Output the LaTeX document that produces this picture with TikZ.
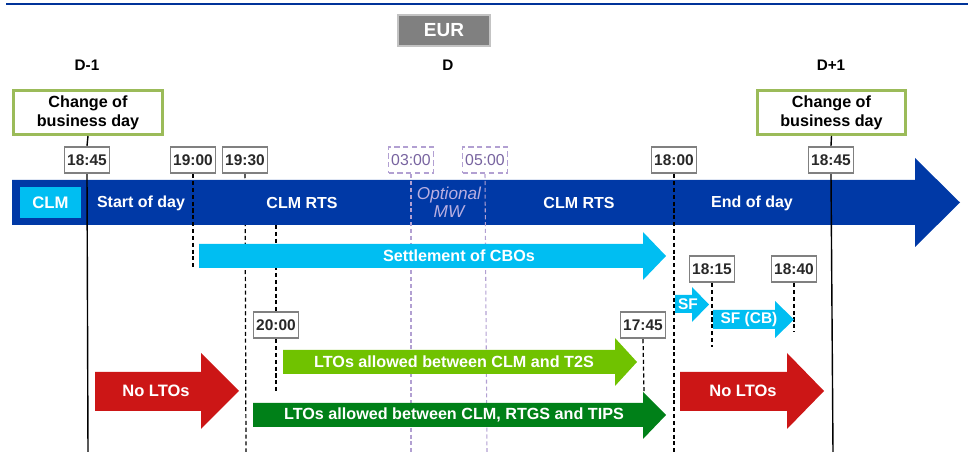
\documentclass[tikz,border=0pt]{standalone}
\usepackage{fontspec}
\setmainfont{Liberation Sans}
\definecolor{mainblue}{RGB}{0,57,166}
\definecolor{topblue}{RGB}{0,51,153}
\definecolor{cyanb}{RGB}{0,190,242}
\definecolor{lgreen}{RGB}{112,194,0}
\definecolor{dgreen}{RGB}{0,128,24}
\definecolor{redb}{RGB}{204,22,22}
\definecolor{cbdgreen}{RGB}{155,187,89}
\definecolor{tgray}{RGB}{128,128,128}
\definecolor{tdark}{RGB}{40,40,40}
\definecolor{mwpurple}{RGB}{178,160,210}
\definecolor{mwtext}{RGB}{120,100,160}
\definecolor{mwlight}{RGB}{185,175,225}
\definecolor{eurgray}{RGB}{128,128,128}
\definecolor{eurborder}{RGB}{195,195,195}
\begin{document}
\begin{tikzpicture}[x=0.02cm,y=-0.02cm,
  font=\bfseries\fontsize{9.2}{11}\selectfont,
  tbox/.style={draw=tgray, line width=1.1pt, fill=white, minimum width=0.9cm, minimum height=0.53cm, inner sep=0pt, text=tdark, font=\bfseries\fontsize{8.8}{10}\selectfont},
  pbox/.style={draw=mwpurple, dashed, dash pattern=on 3pt off 2pt, line width=1pt, fill=white, minimum width=0.9cm, minimum height=0.53cm, inner sep=0pt, text=mwtext, font=\fontsize{9}{10}\selectfont},
  cbd/.style={draw=cbdgreen, line width=1.7pt, fill=white, minimum width=2.98cm, minimum height=0.88cm, inner sep=0pt, align=center, font=\bfseries\fontsize{9.2}{11}\selectfont},
  wlab/.style={text=white, inner sep=0pt},
  dlab/.style={text=black, inner sep=0pt, font=\bfseries\fontsize{8.7}{10}\selectfont},
  alab/.style={text=white, inner sep=0pt, font=\bfseries\fontsize{9.1}{10}\selectfont},
  vsolid/.style={black, line width=0.8pt},
  vdash/.style={black, line width=0.7pt, dash pattern=on 2.3pt off 1.6pt},
  vpurp/.style={mwpurple, line width=0.6pt, dash pattern=on 2.3pt off 1.6pt}]
\useasboundingbox (0,0) rectangle (968,465);

% top rule
\draw[topblue, line width=1.2pt] (6,4) -- (968,4);

% EUR box
\node[fill=eurgray, draw=eurborder, line width=1pt, minimum width=1.84cm, minimum height=0.62cm, inner sep=0pt, text=white, font=\bfseries\fontsize{10.8}{12}\selectfont] (eur) at (444,30.5) {EUR};

% day labels
\node[dlab] (dm1) at (87,65) {D-1};
\node[dlab] (d0) at (448,65) {D};
\node[dlab] (dp1) at (831,65) {D+1};

% change of business day boxes
\node[cbd] (cbdl) at (88,112.5) {Change of\\business day};
\node[cbd] (cbdr) at (831.5,112.5) {Change of\\business day};

% time boxes top
\node[tbox] (t1845l) at (87,160) {18:45};
\node[tbox] (t1900) at (193,160) {19:00};
\node[tbox] (t1930) at (245,160) {19:30};
\node[pbox] (t0300) at (411,160) {03:00};
\node[pbox] (t0500) at (485,160) {05:00};
\node[tbox] (t1800) at (674,160) {18:00};
\node[tbox] (t1845r) at (831,160) {18:45};

% lower time boxes
\node[tbox] (t2000) at (276,325) {20:00};
\node[tbox] (t1745) at (643,325) {17:45};
\node[tbox] (t1815) at (712,269) {18:15};
\node[tbox] (t1840) at (794,269) {18:40};

% line ends
\coordinate (e1845l) at (88,452);
\coordinate (e1900) at (193,268);
\coordinate (e1930) at (246,452);
\coordinate (s2000) at (276,225);
\coordinate (e2000) at (276,392);
\coordinate (e0300) at (411,452);
\coordinate (e0500) at (487,452);
\coordinate (e1800) at (674,452);
\coordinate (e1845r) at (833,452);
\coordinate (e1815) at (712,347);
\coordinate (e1840) at (794,332);
\coordinate (e1745) at (644,392);

% lines behind main arrow
\draw[vdash] (t1930.south) -- (e1930);
\draw[vdash] (s2000) -- (t2000.north);
\draw[vdash] (t2000.south) -- (e2000);

% main arrow
\fill[mainblue] (12,180) -- (915,180) -- (915,158) -- (960,202.5) -- (915,247) -- (915,225) -- (12,225) -- cycle;
\node[fill=cyanb, minimum width=1.22cm, minimum height=0.62cm, inner sep=0pt, text=white, font=\bfseries\fontsize{9.5}{11}\selectfont] (clm) at (50.5,202.5) {CLM};
\node[alab] (sod) at (141,203) {Start of day};
\node[alab] (rts1) at (302,203) {CLM RTS};
\node[wlab, text=mwlight, align=center, font=\mdseries\itshape\fontsize{9.8}{10.5}\selectfont] (mw) at (449,202) {Optional\\MW};
\node[alab] (rts2) at (579,203) {CLM RTS};
\node[alab] (eod) at (752,203) {End of day};

% connectors over main arrow
\draw[vsolid] (cbdl.south) -- (t1845l.north);
\draw[vsolid] (t1845l.south) -- (e1845l);
\draw[vdash] (t1900.south) -- (e1900);
\draw[vpurp] (t0300.south) -- (e0300);
\draw[vpurp] (t0500.south) -- (e0500);
\draw[vdash] (t1800.south) -- (e1800);
\draw[vsolid] (cbdr.south) -- (t1845r.north);
\draw[vsolid] (t1845r.south) -- (e1845r);
\draw[vdash] (t1815.south) -- (e1815);
\draw[vdash] (t1840.south) -- (e1840);
\draw[vdash] (t1745.south) -- (e1745);

% settlement of CBOs
\fill[cyanb] (199,244) -- (643,244) -- (643,232) -- (666,256) -- (643,280) -- (643,268) -- (199,268) -- cycle;
\node[wlab] (cbo) at (459,256) {Settlement of CBOs};

% SF arrows
\fill[cyanb] (675,295) -- (692,295) -- (692,287) -- (709,304.5) -- (692,322) -- (692,313) -- (675,313) -- cycle;
\node[wlab, font=\bfseries\fontsize{8.8}{10}\selectfont] (sf) at (688,304) {SF};
\fill[cyanb] (713,310) -- (775,310) -- (775,301) -- (794,319.5) -- (775,338) -- (775,329) -- (713,329) -- cycle;
\node[wlab, font=\bfseries\fontsize{8.8}{10}\selectfont] (sfcb) at (749,320) {SF (CB)};

% LTO arrows
\fill[lgreen] (283,350) -- (615,350) -- (615,338) -- (637,362) -- (615,386) -- (615,374) -- (283,374) -- cycle;
\node[wlab] (t2s) at (454,362) {LTOs allowed between CLM and T2S};
\fill[dgreen] (253,403) -- (643,403) -- (643,392) -- (666,415) -- (643,439) -- (643,427) -- (253,427) -- cycle;
\node[wlab] (rtgs) at (454,415) {LTOs allowed between CLM, RTGS and TIPS};

% No LTOs
\fill[redb] (95,372) -- (201,372) -- (201,353) -- (239,391) -- (201,429) -- (201,411) -- (95,411) -- cycle;
\node[wlab, font=\bfseries\fontsize{9.4}{10}\selectfont] (nol) at (156,391) {No LTOs};
\fill[redb] (680,372) -- (787,372) -- (787,353) -- (824,391) -- (787,429) -- (787,411) -- (680,411) -- cycle;
\node[wlab, font=\bfseries\fontsize{9.4}{10}\selectfont] (nor) at (743,391) {No LTOs};
\end{tikzpicture}
\end{document}
